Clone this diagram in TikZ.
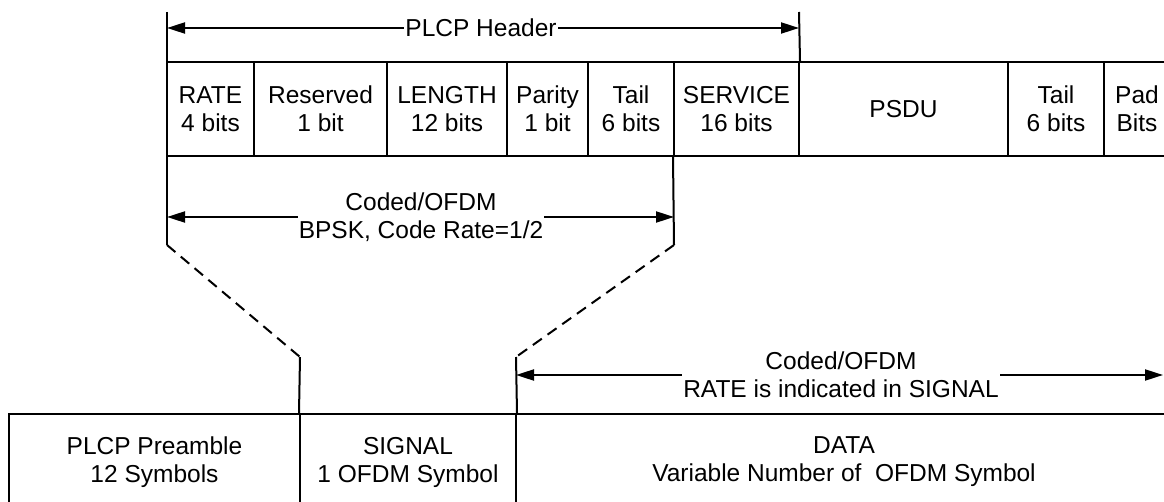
\documentclass[tikz,border=0pt]{standalone}
\usepackage{fontspec}
\setmainfont{Liberation Sans}
\usetikzlibrary{arrows.meta}
\begin{document}
\begin{tikzpicture}[x=1pt,y=-1pt,
  every node/.style={font=\fontsize{24.5}{28}\selectfont, align=center, inner sep=0pt},
  frame/.style={line width=2pt},
  field/.style={draw, frame, minimum height=94pt},
  symbolbox/.style={draw, frame, minimum height=96pt},
  span/.style={frame, {Triangle[length=18pt,width=11pt]}-{Triangle[length=18pt,width=11pt]}},
  fan/.style={frame, dash pattern=on 11pt off 7pt},
  spanlabel/.style={fill=white, inner xsep=1pt}]
\useasboundingbox (0,0) rectangle (1164,502);
\clip (0,0) rectangle (1164,502);

% header and data fields (upper row)
\node[field, minimum width=87pt]  (rate)  at (210.5,109) {RATE\\4 bits};
\node[field, minimum width=133pt] (res)   at (320.5,109) {Reserved\\1 bit};
\node[field, minimum width=120pt] (len)   at (447,109)   {LENGTH\\12 bits};
\node[field, minimum width=81pt]  (par)   at (547.5,109) {Parity\\1 bit};
\node[field, minimum width=86pt]  (tail)  at (631,109)   {Tail\\6 bits};
\node[field, minimum width=125pt] (svc)   at (736.5,109) {SERVICE\\16 bits};
\node[field, minimum width=209pt] (psdu)  at (903.5,109) {PSDU};
\node[field, minimum width=96pt]  (tailb) at (1056,109)  {Tail\\6 bits};
\node[field, minimum width=66pt]  (pad)   at (1137,109)  {Pad\\Bits};

% OFDM symbols (lower row)
\node[symbolbox, minimum width=291pt] (pre)  at (154.5,462) {PLCP Preamble\\12 Symbols};
\node[symbolbox, minimum width=216pt] (sig)  at (408,462)   {SIGNAL\\1 OFDM Symbol};
\node[symbolbox, minimum width=656pt] (data) at (844,462)   {DATA\\Variable Number of \ OFDM Symbol};

% extension lines
\coordinate (hL)   at (167,12);
\coordinate (hR)   at (799,12);
\coordinate (fanL) at (167,245);
\coordinate (fanR) at (674,245);
\coordinate (sigL) at (300,357);
\coordinate (sigR) at (516,357);
\draw[frame] (hL) -- (fanL);
\draw[frame] (hR) -- (svc.north east);
\draw[frame] (svc.south west) -- (fanR);
\draw[fan] (fanL) -- (sigL);
\draw[fan] (fanR) -- (sigR);
\draw[frame] (sigL) -- (sig.north west);
\draw[frame] (sigR) -- (sig.north east);

% dimension arrows
\coordinate (hdrA) at (167,28);
\coordinate (hdrB) at (799,28);
\coordinate (midA) at (167,217);
\coordinate (midB) at (674,217);
\coordinate (datA) at (516,375);
\coordinate (datB) at (1163,375);
\draw[span] (hdrA) -- (hdrB);
\draw[span] (midA) -- (midB);
\draw[span] (datA) -- (datB);
\node[spanlabel] (hdrT) at (481,28)  {PLCP Header};
\node[spanlabel] (midT) at (421,217) {Coded/OFDM\\BPSK, Code Rate=1/2};
\node[spanlabel] (datT) at (841,375) {Coded/OFDM\\RATE is indicated in SIGNAL};
\end{tikzpicture}
\end{document}
